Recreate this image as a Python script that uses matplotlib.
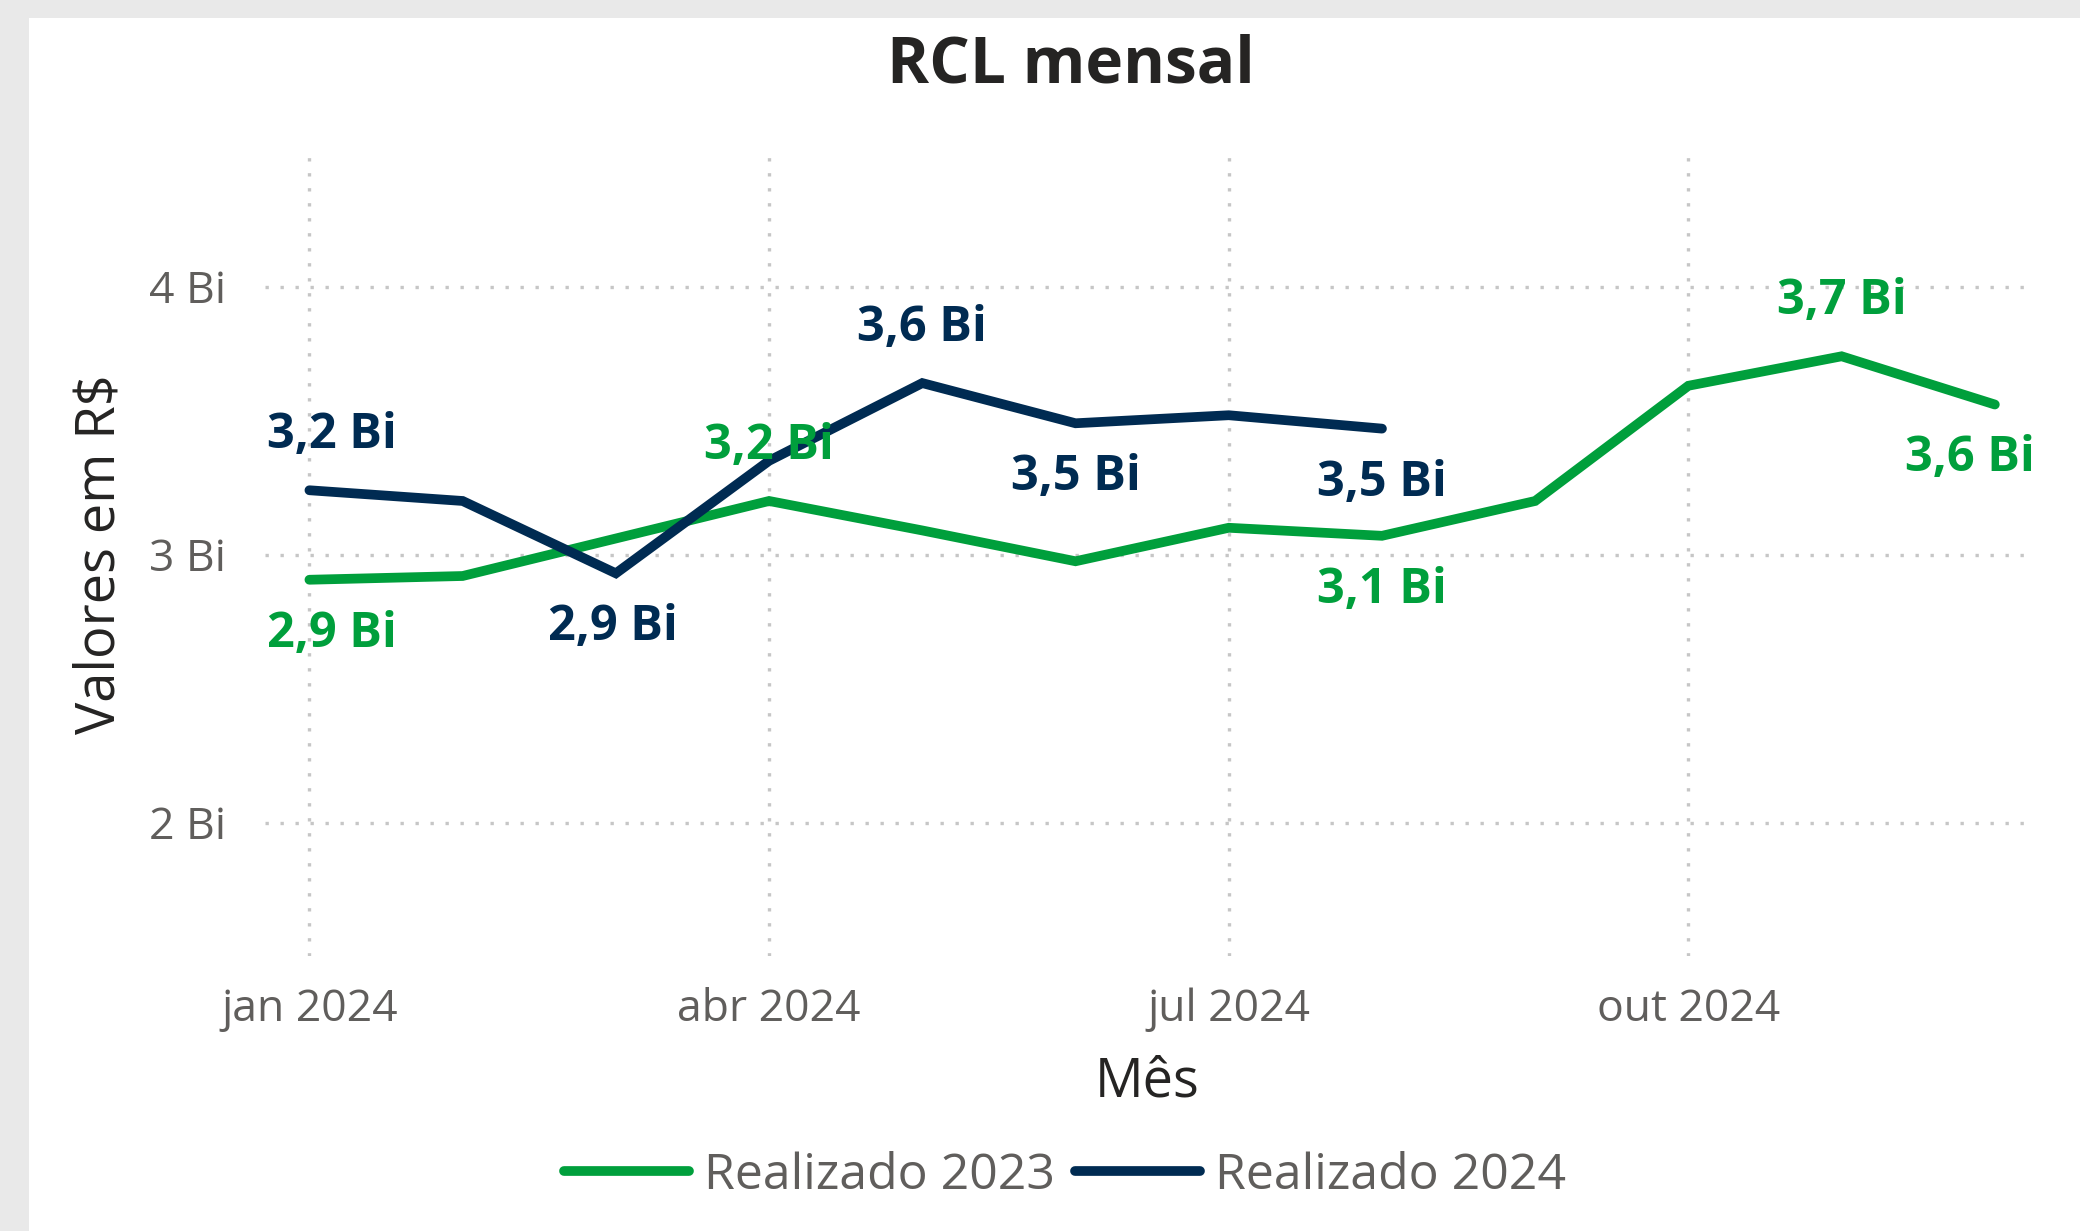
import numpy as np
import matplotlib.pyplot as plt
from matplotlib.patches import Rectangle

plt.rcParams['font.family'] = ['Open Sans', 'DejaVu Sans']

# meses jan..dez (indice 0..11)
meses = np.arange(12)
tick_pos = [0, 3, 6, 9]
tick_labels = ['jan 2024', 'abr 2024', 'jul 2024', 'out 2024']

real_2023 = [2.906, 2.92, 3.06, 3.20, 3.09, 2.975, 3.10, 3.07, 3.20, 3.63, 3.74, 3.56]
real_2024 = [3.24, 3.20, 2.93, 3.35, 3.64, 3.49, 3.52, 3.47]

# rotulos: indice -> (posicao, deslocamento x em pt)
rot_2023 = {0: ('below', 8), 3: ('above', 0), 7: ('below', 0), 10: ('above', 0), 11: ('below', -9)}
rot_2024 = {0: ('above', 8), 2: ('below', -1), 4: ('above', 0), 5: ('below', 0), 7: ('below', 0)}

verde = '#009F3C'
azul = '#002B52'

fig = plt.figure(figsize=(10.4, 6.155), dpi=200, facecolor='#e9e9e9')
fig.patches.append(Rectangle((29 / 2080, 0), 1, 1 - 18 / 1231, transform=fig.transFigure,
                             facecolor='white', edgecolor='none', zorder=-1))

ax = fig.add_axes([0.1274, 0.223, 0.976 - 0.1274, 0.876 - 0.223])
ax.set_facecolor('none')
ax.set_zorder(2)

ax.plot(meses[:len(real_2023)], real_2023, color=verde, lw=3.5, solid_capstyle='round',
        solid_joinstyle='miter', label='Realizado 2023', zorder=3)
ax.plot(meses[:len(real_2024)], real_2024, color=azul, lw=3.5, solid_capstyle='round',
        solid_joinstyle='miter', label='Realizado 2024', zorder=4)


def fmt(v):
    return f"{v:.1f}".replace('.', ',') + ' Bi'


for serie, rots, cor in [(real_2023, rot_2023, verde), (real_2024, rot_2024, azul)]:
    for i, (pos, dx) in rots.items():
        dy = 19.6 if pos == 'above' else -19.6
        ax.annotate(fmt(serie[i]), (i, serie[i]), xytext=(dx, dy), textcoords='offset points',
                    ha='center', va='center', color=cor, fontsize=17.5, fontweight='bold', zorder=5)

ax.set_xlim(-0.29, 11.23)
ax.set_ylim(1.5, 4.5)
ax.set_xticks(tick_pos)
ax.set_xticklabels(tick_labels)
ax.set_yticks([2, 3, 4])
ax.set_yticklabels(['2 Bi', '3 Bi', '4 Bi'])
ax.tick_params(length=0, labelsize=16, labelcolor='#605E5C')
ax.tick_params(axis='x', pad=11)
ax.tick_params(axis='y', pad=14)
for s in ax.spines.values():
    s.set_visible(False)
ax.grid(True, color='#c6c6c6', lw=1.2, linestyle=(0, (1, 3.5)), zorder=1)

fig.text(0.048, 0.55, 'Valores em R$', rotation=90, ha='center', va='center',
         fontsize=19.5, color='#252423')
fig.text((0.1274 + 0.976) / 2, 0.121, 'Mês', ha='center', va='center', fontsize=19.5, color='#252423')
fig.text(0.515, 0.946, 'RCL mensal', ha='center', va='center', fontsize=23, fontweight='bold',
         color='#252423')

leg = fig.legend(loc='center', bbox_to_anchor=(0.512, 0.0447), ncol=2, frameon=False,
                 fontsize=18, labelcolor='#605E5C', handlelength=2.5, handletextpad=0.3,
                 columnspacing=0.4)
for h in leg.legend_handles:
    h.set_solid_capstyle('round')
    h.set_linewidth(3.5)

fig.savefig('out.png', dpi=200, facecolor=fig.get_facecolor())
